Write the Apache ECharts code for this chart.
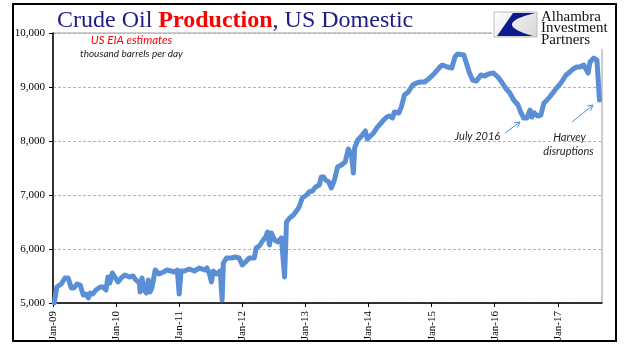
<!DOCTYPE html>
<html><head><meta charset="utf-8">
<script src="https://cdn.jsdelivr.net/npm/echarts@6/dist/echarts.min.js"></script>
<style>html,body{margin:0;padding:0;background:#fff}#c{width:641px;height:361px}</style>
</head><body><div id="c"></div>
<script>
const years = [
2009.02,2009.06,2009.13,2009.19,2009.24,2009.29,2009.33,2009.38,2009.43,2009.48,2009.52,2009.56,2009.59,2009.63,2009.68,2009.75,2009.79,2009.81,2009.84,2009.87,2009.90,2009.94,2009.98,
2010.03,2010.08,2010.14,2010.21,2010.27,2010.30,2010.33,2010.37,2010.38,2010.41,2010.44,2010.48,2010.51,2010.54,2010.57,2010.62,2010.68,2010.75,2010.81,2010.87,2010.92,2010.97,
2011.00,2011.03,2011.08,2011.16,2011.24,2011.32,2011.40,2011.44,2011.48,2011.51,2011.54,2011.59,2011.65,2011.68,2011.70,2011.75,2011.78,2011.83,2011.89,2011.95,
2012.00,2012.05,2012.11,2012.19,2012.22,2012.27,2012.32,2012.37,2012.40,2012.43,2012.46,2012.51,2012.56,2012.62,2012.67,2012.70,2012.75,2012.81,2012.87,2012.90,2012.95,
2013.02,2013.06,2013.11,2013.16,2013.22,2013.25,2013.29,2013.32,2013.37,2013.41,2013.46,2013.51,2013.57,2013.63,2013.68,2013.73,2013.76,2013.78,2013.83,2013.89,2013.95,2013.98,
2014.03,2014.08,2014.13,2014.17,2014.24,2014.29,2014.33,2014.38,2014.41,2014.48,2014.52,2014.57,2014.63,2014.70,2014.76,2014.83,2014.89,2014.97,
2015.05,2015.13,2015.17,2015.25,2015.32,2015.37,2015.41,2015.44,2015.51,2015.56,2015.60,2015.65,2015.71,2015.78,2015.84,2015.90,2015.98,
2016.05,2016.11,2016.17,2016.24,2016.30,2016.37,2016.41,2016.46,2016.51,2016.56,2016.59,2016.63,2016.68,2016.73,2016.78,2016.83,2016.87,2016.92,2016.98,
2017.06,2017.13,2017.19,2017.24,2017.30,2017.35,2017.41,2017.48,2017.51,2017.57,2017.62,2017.66
];
// crude oil production, thousand barrels per day
const production = [
5000,5296,5352,5463,5463,5278,5278,5352,5333,5148,5167,5093,5185,5167,5241,5296,5296,5333,5241,5481,5370,5556,5481,
5389,5463,5519,5481,5500,5444,5481,5370,5204,5463,5241,5185,5426,5204,5296,5611,5537,5574,5611,5593,5574,5611,
5167,5593,5593,5630,5593,5648,5611,5648,5537,5389,5593,5537,5593,5056,5741,5833,5870,5833,5852,5833,
5704,5759,5833,5833,6019,6056,6148,6222,6315,6074,6296,6167,6130,6204,5481,6500,6574,6630,6722,6778,6944,
7000,7056,7074,7148,7185,7333,7333,7278,7241,7130,7278,7519,7556,7611,7852,7750,7407,7870,8019,8093,8185,8037,
8093,8148,8241,8296,8389,8444,8463,8426,8537,8519,8630,8852,8907,9037,9074,9093,9093,9167,
9259,9370,9407,9370,9352,9556,9611,9611,9593,9407,9259,9130,9111,9222,9204,9241,9259,
9185,9093,8981,8889,8759,8667,8537,8426,8426,8574,8444,8519,8463,8481,8704,8759,8815,8889,8981,
9093,9222,9278,9333,9370,9370,9407,9259,9463,9537,9500,8759
];
const yearTicks = [2009,2010,2011,2012,2013,2014,2015,2016,2017];
const yMin = 5000, yMax = 10000, yStep = 1000;

function arrow(x1, y1, x2, y2, color) {
  const dx = x2 - x1, dy = y2 - y1, L = Math.hypot(dx, dy);
  const ux = dx / L, uy = dy / L, h = 6, a = 0.5;
  const p1 = [x2 - h * (ux * Math.cos(a) - uy * Math.sin(a)), y2 - h * (uy * Math.cos(a) + ux * Math.sin(a))];
  const p2 = [x2 - h * (ux * Math.cos(-a) - uy * Math.sin(-a)), y2 - h * (uy * Math.cos(-a) + ux * Math.sin(-a))];
  return [
    {type:'line', z:60, shape:{x1, y1, x2, y2}, style:{stroke:color, lineWidth:1}},
    {type:'polyline', z:60, shape:{points:[p1,[x2,y2],p2]}, style:{stroke:color, lineWidth:1, fill:null}}
  ];
}
// logo swoosh outline (quadratic curve sampled)
function logoShape() {
  const pts = [[513,13],[535,13]];
  const P0=[535,13], C=[490,24], P1=[533,36];
  for (let i = 1; i <= 16; i++) {
    const t = i / 16, m = 1 - t;
    pts.push([m*m*P0[0] + 2*m*t*C[0] + t*t*P1[0], m*m*P0[1] + 2*m*t*C[1] + t*t*P1[1]]);
  }
  pts.push([497,36]);
  return pts;
}

const chart = echarts.init(document.getElementById('c'), null, {renderer:'canvas'});
const annFont = 'Lato, "Liberation Sans", sans-serif';
const option = {
  backgroundColor: '#ffffff',
  animation: false,
  title: {
    left: 57, top: 9, padding: 0,
    text: '{a|Crude Oil }{b|Production}{a|, US Domestic}',
    textStyle: {
      fontWeight: 'normal',
      rich: {
        a: {fontFamily:'"Liberation Serif", serif', fontSize:24, fontWeight:'normal', color:'#1c1c84'},
        b: {fontFamily:'"Liberation Serif", serif', fontSize:24, fontWeight:'bold', color:'#ff0000'}
      }
    }
  },
  grid: {left:53, top:33, width:549, height:270, show:true, borderColor:'#9a9a9a', borderWidth:1, backgroundColor:'transparent'},
  xAxis: {
    type:'value', min:2009, max:2017.70, interval:1,
    axisLine:{lineStyle:{color:'#000', width:1.5}},
    axisTick:{show:true, length:4, customValues:yearTicks, lineStyle:{color:'#000'}},
    splitLine:{show:false},
    axisLabel:{
      customValues:yearTicks, rotate:90, margin:8, color:'#000',
      fontFamily:'"Liberation Serif", serif', fontSize:11,
      formatter: v => 'Jan-' + String(Math.round(v)).slice(2)
    }
  },
  yAxis: {
    type:'value', min:yMin, max:yMax, interval:yStep,
    axisLine:{show:true, lineStyle:{color:'#000', width:1.5}},
    axisTick:{show:true, length:4, lineStyle:{color:'#000'}},
    splitLine:{show:true, lineStyle:{color:'#b4b4b4', type:[3,2], width:1}},
    axisLabel:{
      margin:8, color:'#000', fontFamily:'"Liberation Serif", serif', fontSize:11,
      formatter: v => v.toLocaleString('en-US')
    }
  },
  series: [{
    type:'line', showSymbol:false, smooth:false,
    data: years.map((y, i) => [y, production[i]]),
    lineStyle:{color:'#5a8fd6', width:5, join:'round', cap:'round'},
    itemStyle:{color:'#5a8fd6'}
  }],
  graphic: [
    {type:'rect', z:50, shape:{x:492, y:6, width:122, height:43}, style:{fill:'#ffffff'}},
    {type:'rect', z:51, shape:{x:494, y:12, width:43, height:25},
      style:{fill:{type:'linear', x:0, y:0, x2:1, y2:1, colorStops:[{offset:0, color:'#ffffff'},{offset:1, color:'#d6d6d6'}]}, stroke:'#bdbdbd', lineWidth:1}},
    {type:'polygon', z:52, shape:{points:logoShape()}, style:{fill:'#0d1a8c'}},
    {type:'text', z:52, x:541, y:17, style:{text:'Alhambra', font:'15px "Liberation Serif", serif', fill:'#111', align:'left', verticalAlign:'middle'}},
    {type:'text', z:52, x:541, y:28.5, style:{text:'Investment', font:'15px "Liberation Serif", serif', fill:'#111', align:'left', verticalAlign:'middle'}},
    {type:'text', z:52, x:541, y:40, style:{text:'Partners', font:'15px "Liberation Serif", serif', fill:'#111', align:'left', verticalAlign:'middle'}},
    {type:'text', z:60, x:131.5, y:40, style:{text:'US EIA estimates', font:'italic 11.5px ' + annFont, fill:'#ff0000', align:'center', verticalAlign:'middle'}},
    {type:'text', z:60, x:131.5, y:54, style:{text:'thousand barrels per day', font:'italic 10px ' + annFont, fill:'#1a1a1a', align:'center', verticalAlign:'middle'}},
    {type:'text', z:60, x:477.5, y:136, style:{text:'July 2016', font:'italic 11px ' + annFont, fill:'#262626', align:'center', verticalAlign:'middle'}},
    {type:'text', z:60, x:569.5, y:137, style:{text:'Harvey', font:'italic 11px ' + annFont, fill:'#262626', align:'center', verticalAlign:'middle'}},
    {type:'text', z:60, x:568.5, y:151, style:{text:'disruptions', font:'italic 11px ' + annFont, fill:'#262626', align:'center', verticalAlign:'middle'}},
    ...arrow(505, 133, 520, 122, '#5a8fd6'),
    ...arrow(572, 122, 593, 105, '#5a8fd6'),
    {type:'rect', z:100, shape:{x:13, y:4, width:603, height:337}, style:{fill:null, stroke:'#000', lineWidth:2}}
  ]
};
chart.setOption(option);
</script>
</body></html>
